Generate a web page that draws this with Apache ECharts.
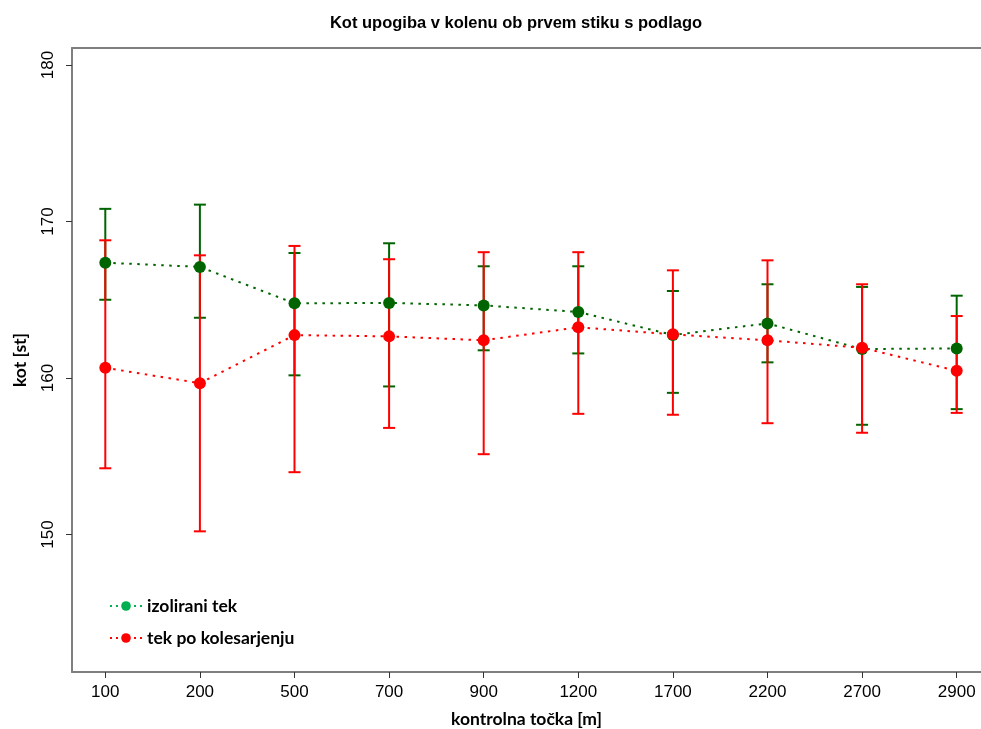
<!DOCTYPE html>
<html>
<head>
<meta charset="utf-8">
<script src="https://cdn.jsdelivr.net/npm/echarts@6/dist/echarts.min.js"></script>
<style>html,body{margin:0;padding:0;background:#fff}#c{width:981px;height:729px}</style>
</head>
<body>
<div id="c"></div>
<script>
// ---- data ----
const categories = ['100','200','500','700','900','1200','1700','2200','2700','2900'];
const isoMean  = [167.37, 167.10, 164.77, 164.80, 164.64, 164.22, 162.75, 163.49, 161.85, 161.89];
const isoLow   = [165.00, 163.85, 160.17, 159.46, 161.77, 161.57, 159.05, 161.00, 157.01, 158.01];
const isoHigh  = [170.81, 171.08, 167.99, 168.61, 167.14, 167.14, 165.56, 165.99, 165.82, 165.26];
const colMean  = [160.65, 159.67, 162.74, 162.66, 162.41, 163.24, 162.79, 162.41, 161.93, 160.46];
const colLow   = [154.23, 150.20, 153.98, 156.81, 155.13, 157.71, 157.65, 157.11, 156.50, 157.77];
const colHigh  = [168.80, 167.84, 168.44, 167.59, 168.04, 168.04, 166.88, 167.52, 165.99, 163.96];
const yTicks = [150, 160, 170, 180];
const seriesNames = ['izolirani tek', 'tek po kolesarjenju'];

const xTickVals = categories.map((c, i) => i);

function errData(lo, hi) { return lo.map((v, i) => [i, v, hi[i]]); }
function meanData(m) { return m.map((v, i) => [i, v]); }

function errRender(color) {
  return function (params, api) {
    const x = api.value(0);
    const pLo = api.coord([x, api.value(1)]);
    const pHi = api.coord([x, api.value(2)]);
    const hw = 6;
    const st = { stroke: color, lineWidth: 2 };
    return {
      type: 'group',
      children: [
        { type: 'line', shape: { x1: pLo[0], y1: pLo[1], x2: pHi[0], y2: pHi[1] }, style: st },
        { type: 'line', shape: { x1: pLo[0] - hw, y1: pLo[1], x2: pLo[0] + hw, y2: pLo[1] }, style: st },
        { type: 'line', shape: { x1: pHi[0] - hw, y1: pHi[1], x2: pHi[0] + hw, y2: pHi[1] }, style: st }
      ]
    };
  };
}

const GREEN = '#006400';
const RED = '#ff0000';
const tickFont = 'Liberation Sans, Arial, sans-serif';
const boldFont = 'Lato, Open Sans, sans-serif';

const chart = echarts.init(document.getElementById('c'), null, { renderer: 'canvas' });
chart.setOption({
  backgroundColor: '#fff',
  animation: false,
  title: {
    text: 'Kot upogiba v kolenu ob prvem stiku s podlago',
    left: 511, top: 10, textAlign: 'center',
    textStyle: { fontFamily: tickFont, fontSize: 16.5, fontWeight: 'bold', color: '#000' }
  },
  grid: { left: 72, top: 48, right: 0, bottom: 57, containLabel: false, outerBoundsMode: 'none' },
  legend: {
    orient: 'vertical', left: 104, top: 592,
    itemWidth: 32, itemHeight: 12, itemGap: 14,
    textStyle: { fontFamily: boldFont, fontSize: 17.5, fontWeight: 'bold', color: '#000' },
    data: [
      { name: seriesNames[0], itemStyle: { color: '#00b050' }, lineStyle: { color: '#00b050', type: [2, 4], width: 2 } },
      { name: seriesNames[1], itemStyle: { color: RED }, lineStyle: { color: RED, type: [2, 4], width: 2 } }
    ]
  },
  xAxis: [{
    type: 'value', min: -0.352, max: 9.257,
    name: 'kontrolna točka [m]', nameLocation: 'middle', nameGap: 38,
    nameTextStyle: { fontFamily: boldFont, fontSize: 17.5, fontWeight: 'bold', color: '#000' },
    axisLine: { show: true, onZero: false, lineStyle: { color: '#7f7f7f', width: 2 } },
    axisTick: { show: true, length: 6, customValues: xTickVals, lineStyle: { color: '#333', width: 1 } },
    axisLabel: {
      customValues: xTickVals, margin: 12,
      formatter: v => categories[Math.round(v)],
      fontFamily: tickFont, fontSize: 17, color: '#000'
    },
    splitLine: { show: false }
  }, {
    type: 'value', min: -0.352, max: 9.257, position: 'top',
    axisLine: { show: true, onZero: false, lineStyle: { color: '#7f7f7f', width: 2 } },
    axisTick: { show: false }, axisLabel: { show: false }, splitLine: { show: false }
  }],
  yAxis: {
    type: 'value', min: 141.21, max: 181.09,
    name: 'kot [st]', nameLocation: 'middle', nameGap: 43, nameRotate: 90,
    nameTextStyle: { fontFamily: boldFont, fontSize: 17.5, fontWeight: 'bold', color: '#000' },
    axisLine: { show: true, onZero: false, lineStyle: { color: '#7f7f7f', width: 2 } },
    axisTick: { show: true, length: 6, customValues: yTicks, lineStyle: { color: '#333', width: 1 } },
    axisLabel: {
      customValues: yTicks, rotate: 90, margin: 15,
      fontFamily: tickFont, fontSize: 17, color: '#000'
    },
    splitLine: { show: false }
  },
  series: [
    {
      type: 'custom', name: 'errIso', z: 1, renderItem: errRender(GREEN),
      data: errData(isoLow, isoHigh), encode: { x: 0, y: [1, 2] }, silent: true
    },
    {
      type: 'custom', name: 'errCol', z: 2, renderItem: errRender(RED),
      data: errData(colLow, colHigh), encode: { x: 0, y: [1, 2] }, silent: true
    },
    {
      type: 'line', name: seriesNames[0], z: 3,
      data: meanData(isoMean), symbol: 'circle', symbolSize: 12,
      itemStyle: { color: GREEN }, lineStyle: { color: GREEN, width: 2, type: [2.5, 5.5] }
    },
    {
      type: 'line', name: seriesNames[1], z: 4,
      data: meanData(colMean), symbol: 'circle', symbolSize: 12,
      itemStyle: { color: RED }, lineStyle: { color: RED, width: 2, type: [2.5, 5.5] }
    }
  ]
});
</script>
</body>
</html>
